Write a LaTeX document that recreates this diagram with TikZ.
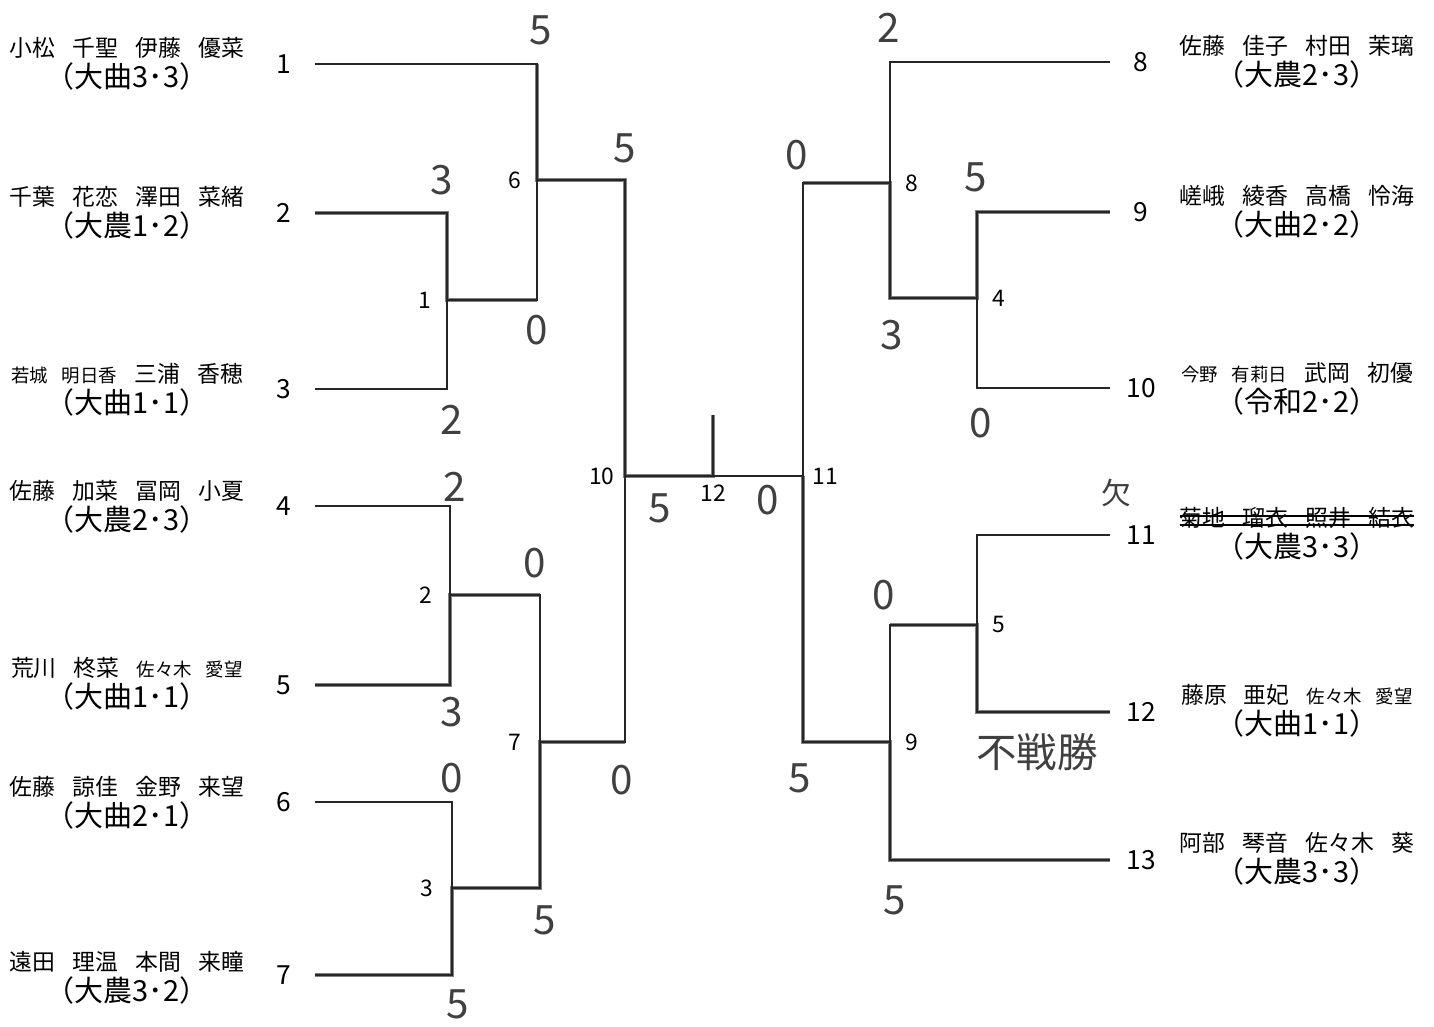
\documentclass[tikz,border=0pt]{standalone}
\usepackage{fontspec}
\setmainfont{Noto Sans CJK JP}
\newfontfamily\handfont{Noto Sans CJK JP}
\usetikzlibrary{positioning}

\newcommand{\gap}{\hspace{0.75em}}
\newcommand{\sm}[1]{{\fontsize{10.5}{12}\selectfont #1}}
\newcommand{\aff}[1]{{\fontsize{16.5}{17}\selectfont #1}}

\begin{document}
\begin{tikzpicture}[x=0.02cm, y=-0.02cm,
  line/.style={line width=1.1pt, black!85},
  win/.style={line width=2.6pt, black!50},
  entry/.style={align=center, inner sep=0pt, font=\fontsize{13}{17.5}\selectfont},
  seed/.style={inner sep=0pt, font=\fontsize{15}{15}\selectfont},
  mno/.style={inner sep=0pt, font=\fontsize{13}{13}\selectfont},
  score/.style={inner sep=0pt, font=\handfont\fontsize{23}{23}\selectfont, black!75}
]
\useasboundingbox (0,0) rectangle (1434,1027);

% left block
\node[entry] (p1) at (127,64) {小松\gap 千聖\gap 伊藤\gap 優菜\\\aff{（大曲3･3）}};
\node[entry] (p2) at (127,213) {千葉\gap 花恋\gap 澤田\gap 菜緒\\\aff{（大農1･2）}};
\node[entry] (p3) at (127,390) {\sm{若城\gap 明日香}\gap 三浦\gap 香穂\\\aff{（大曲1･1）}};
\node[entry] (p4) at (127,507) {佐藤\gap 加菜\gap 冨岡\gap 小夏\\\aff{（大農2･3）}};
\node[entry] (p5) at (127,684) {荒川\gap 柊菜\gap \sm{佐々木\gap 愛望}\\\aff{（大曲1･1）}};
\node[entry] (p6) at (127,803) {佐藤\gap 諒佳\gap 金野\gap 来望\\\aff{（大曲2･1）}};
\node[entry] (p7) at (127,978) {遠田\gap 理温\gap 本間\gap 来瞳\\\aff{（大農3･2）}};

\node[seed] (s1) at (284,64) {1};
\node[seed] (s2) at (284,213) {2};
\node[seed] (s3) at (284,389) {3};
\node[seed] (s4) at (284,506) {4};
\node[seed] (s5) at (284,685) {5};
\node[seed] (s6) at (284,802) {6};
\node[seed] (s7) at (284,975) {7};

% right block
\node[entry] (p8) at (1297,62) {佐藤\gap 佳子\gap 村田\gap 茉璃\\\aff{（大農2･3）}};
\node[entry] (p9) at (1297,212) {嵯峨\gap 綾香\gap 高橋\gap 怜海\\\aff{（大曲2･2）}};
\node[entry] (p10) at (1297,389) {\sm{今野\gap 有莉日}\gap 武岡\gap 初優\\\aff{（令和2･2）}};
\node[entry] (p11) at (1297,534) {菊地\gap 瑠衣\gap 照井\gap 結衣\\\aff{（大農3･3）}};
\node[entry] (p12) at (1297,711) {藤原\gap 亜妃\gap \sm{佐々木\gap 愛望}\\\aff{（大曲1･1）}};
\node[entry] (p13) at (1297,859) {阿部\gap 琴音\gap 佐々木\gap 葵\\\aff{（大農3･3）}};

\node[seed] (s8) at (1141,62) {8};
\node[seed] (s9) at (1141,212) {9};
\node[seed] (s10) at (1141,388) {10};
\node[seed] (s11) at (1141,535) {11};
\node[seed] (s12) at (1141,712) {12};
\node[seed] (s13) at (1141,860) {13};

% line ends and junctions
\coordinate (e1) at (315,64);
\coordinate (e2) at (315,213);
\coordinate (e3) at (315,389);
\coordinate (e4) at (315,506);
\coordinate (e5) at (315,685);
\coordinate (e6) at (315,802);
\coordinate (e7) at (315,975);
\coordinate (e8) at (1110,62);
\coordinate (e9) at (1110,212);
\coordinate (e10) at (1110,388);
\coordinate (e11) at (1110,535);
\coordinate (e12) at (1110,712);
\coordinate (e13) at (1110,860);

\coordinate (m1) at (447,300);
\coordinate (m2) at (450,595);
\coordinate (m3) at (452,888);
\coordinate (m6) at (537,180);
\coordinate (m7) at (540,742);
\coordinate (m10) at (625,476);
\coordinate (m12) at (713,476);
\coordinate (champ) at (713,415);
\coordinate (m11) at (803,476);
\coordinate (m8) at (890,183);
\coordinate (m4) at (977,298);
\coordinate (m9) at (890,742);
\coordinate (m5) at (977,625);

% winners
\draw[win] (e2) -| (m1) -- (m1 -| m6);
\draw[win] (e1 -| m6) -- (m6) -- (m6 -| m10) -- (m10) -- (m12) -- (champ);
\draw[win] (e5) -| (m2) -- (m2 -| m7);
\draw[win] (e7) -| (m3) -- (m3 -| m7) -- (m7) -- (m7 -| m10);
\draw[win] (e9) -| (m4) -- (m4 -| m8) -- (m8) -- (m8 -| m11);
\draw[win] (e12) -| (m5) -- (m5 -| m9);
\draw[win] (e13) -| (m9) -- (m9 -| m11) -- (m11);

% bracket
\draw[line] (e2) -| (m1) |- (e3);
\draw[line] (e1) -| (m6) |- (m1);
\draw[line] (e4) -| (m2) |- (e5);
\draw[line] (e6) -| (m3) |- (e7);
\draw[line] (m2) -| (m7) |- (m3);
\draw[line] (m6) -| (m10) |- (m7);
\draw[line] (m10) -- (m12) -- (m11);
\draw[line] (m12) -- (champ);
\draw[line] (e9) -| (m4) |- (e10);
\draw[line] (e8) -| (m8) |- (m4);
\draw[line] (m8) -| (m11) |- (m9);
\draw[line] (e11) -| (m5) |- (e12);
\draw[line] (m5) -| (m9) |- (e13);

% match numbers
\node[mno, left=0.3cm of m1] (l1) {1};
\node[mno, left=0.34cm of m2] (l2) {2};
\node[mno, left=0.36cm of m3] (l3) {3};
\node[mno, left=0.3cm of m6] (l6) {6};
\node[mno, left=0.36cm of m7] (l7) {7};
\node[mno, left=0.2cm of m10] (l10) {10};
\node[mno, below=0.18cm of m12] (l12) {12};
\node[mno, right=0.18cm of m11] (l11) {11};
\node[mno, right=0.3cm of m8] (l8) {8};
\node[mno, right=0.3cm of m4] (l4) {4};
\node[mno, right=0.3cm of m5] (l5) {5};
\node[mno, right=0.3cm of m9] (l9) {9};

% scores
\node[score] (sc1) at (541,30) {5};
\node[score] (sc2) at (442,180) {3};
\node[score] (sc3) at (452,420) {2};
\node[score] (sc4) at (537,330) {0};
\node[score] (sc5) at (625,148) {5};
\node[score] (sc6) at (455,487) {2};
\node[score] (sc7) at (535,563) {0};
\node[score] (sc8) at (452,712) {3};
\node[score] (sc9) at (452,778) {0};
\node[score] (sc10) at (545,920) {5};
\node[score] (sc11) at (458,1004) {5};
\node[score] (sc12) at (622,780) {0};
\node[score] (sc13) at (660,508) {5};
\node[score] (sc14) at (768,500) {0};
\node[score] (sc15) at (889,28) {2};
\node[score] (sc16) at (797,155) {0};
\node[score] (sc17) at (976,177) {5};
\node[score] (sc18) at (892,335) {3};
\node[score] (sc19) at (981,423) {0};
\node[score] (sc20) at (884,595) {0};
\node[score] (sc21) at (800,778) {5};
\node[score] (sc22) at (895,900) {5};
\node[score] (fusen) at (1037,752) {不戦勝};
\node[score, font=\handfont\fontsize{17}{17}\selectfont] (ketsu) at (1116,493) {欠};

% withdrawn pair
\draw[line width=0.8pt] ([yshift=-5pt]p11.north west) -- ([yshift=-5pt]p11.north east);
\draw[line width=0.8pt] ([yshift=-10pt]p11.north west) -- ([yshift=-10pt]p11.north east);
\end{tikzpicture}
\end{document}
